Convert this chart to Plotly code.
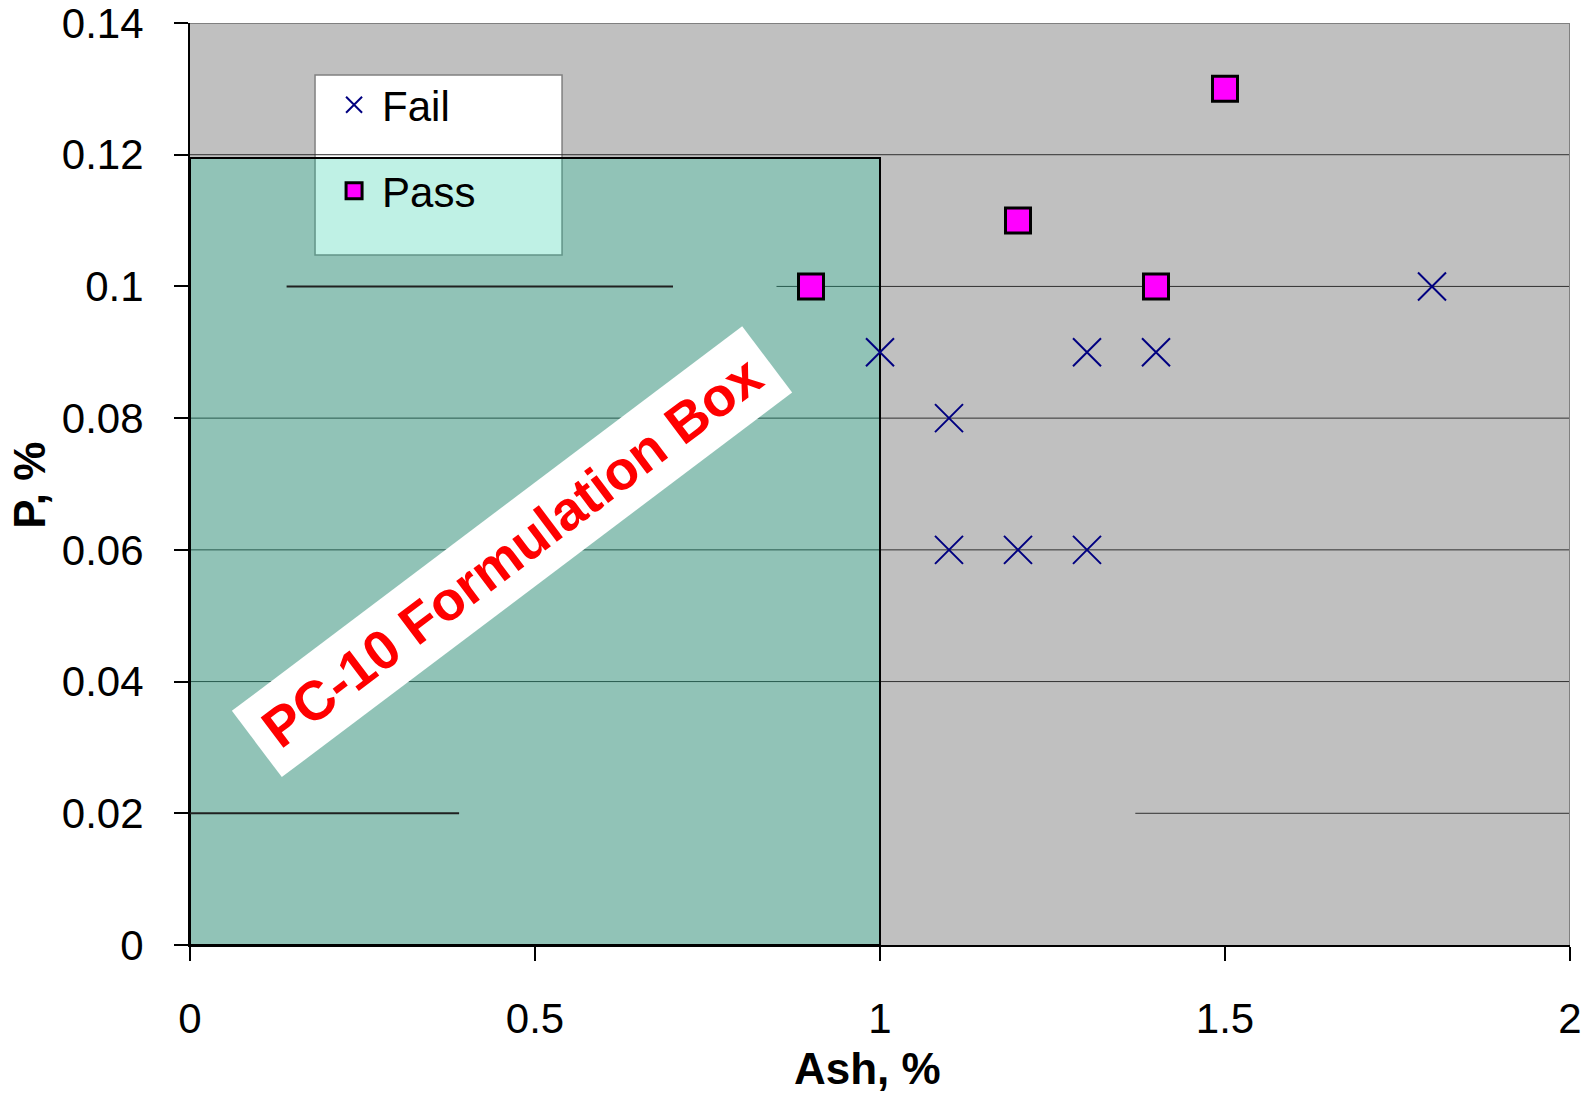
import plotly.graph_objects as go

# ---- data ----
fail_ash = [1.0, 1.1, 1.1, 1.2, 1.3, 1.3, 1.4, 1.8]
fail_p = [0.09, 0.08, 0.06, 0.06, 0.06, 0.09, 0.09, 0.10]
pass_ash = [0.9, 1.2, 1.4, 1.5]
pass_p = [0.10, 0.11, 0.10, 0.13]

x_ticks = [0, 0.5, 1, 1.5, 2]
x_tick_text = ["0", "0.5", "1", "1.5", "2"]
y_ticks = [0, 0.02, 0.04, 0.06, 0.08, 0.10, 0.12, 0.14]
y_tick_text = ["0", "0.02", "0.04", "0.06", "0.08", "0.1", "0.12", "0.14"]

box_ash_max = 1.0
box_p_max = 0.1195
box_label = "PC-10 Formulation Box"

# gridline segments (y value, x start, x end)
grid_segments = [
    (0.12, 0, 2), (0.10, 0.85, 2), (0.08, 0, 2), (0.06, 0, 2),
    (0.04, 0, 2), (0.02, 1.37, 2),
]
dark_segments = [(0.10, 0.14, 0.70), (0.02, 0.0, 0.39)]

FONT = "Liberation Sans, Arial, sans-serif"

fig = go.Figure()
fig.add_trace(go.Scatter(
    x=fail_ash, y=fail_p, mode="markers", name="Fail", legend="legend", showlegend=True,
    marker=dict(symbol="x-thin", size=28, color="#000080",
                line=dict(width=2, color="#000080")),
))
fig.add_trace(go.Scatter(
    x=pass_ash, y=pass_p, mode="markers", name="Pass", legend="legend2", showlegend=True,
    marker=dict(symbol="square", size=25, color="#FF00FF",
                line=dict(width=3, color="black")),
))

shapes = []
for yv, xa, xb in grid_segments:
    shapes.append(dict(type="line", xref="x", yref="y", x0=xa, x1=xb, y0=yv, y1=yv,
                       line=dict(color="#303030", width=1), layer="between"))
# legend background
shapes.append(dict(type="rect", xref="paper", yref="paper",
                   x0=0.0906, x1=0.2696, y0=0.7484, y1=0.9436,
                   fillcolor="white", line=dict(color="#808080", width=1.5), layer="between"))
# formulation box
shapes.append(dict(type="rect", xref="x", yref="y", x0=0, x1=box_ash_max, y0=0, y1=box_p_max,
                   fillcolor="rgba(20,204,160,0.27)", line=dict(color="black", width=2),
                   layer="between"))
for yv, xa, xb in dark_segments:
    shapes.append(dict(type="line", xref="x", yref="y", x0=xa, x1=xb, y0=yv, y1=yv,
                       line=dict(color="#202020", width=2), layer="between"))
# top / right border
shapes.append(dict(type="line", xref="x", yref="y", x0=0, x1=2, y0=0.14, y1=0.14,
                   line=dict(color="#808080", width=2), layer="between"))
shapes.append(dict(type="line", xref="x", yref="y", x0=2, x1=2, y0=0, y1=0.14,
                   line=dict(color="#808080", width=2), layer="between"))

annotations = [
    dict(text="<b>" + box_label + "</b>", xref="x", yref="y", x=0.466, y=0.0597,
         showarrow=False, textangle=-37, bgcolor="white", borderpad=4,
         width=630, height=74, align="center",
         font=dict(family=FONT, size=55, color="#FF0000")),
    dict(text="<b>Ash, %</b>", xref="paper", yref="paper", x=0.491, y=-0.134,
         xanchor="center", yanchor="middle", showarrow=False,
         font=dict(family=FONT, size=44, color="black")),
    dict(text="<b>P, %</b>", xref="paper", yref="paper", x=-0.116, y=0.499,
         xanchor="center", yanchor="middle", showarrow=False, textangle=-90,
         font=dict(family=FONT, size=44, color="black")),
]

legend_common = dict(bgcolor="rgba(0,0,0,0)", borderwidth=0, xanchor="left", yanchor="middle",
                     font=dict(family=FONT, size=42, color="black"), itemwidth=46,
                     visible=True)

fig.update_layout(
    width=1595, height=1102,
    margin=dict(l=190, r=25, t=23, b=157),
    paper_bgcolor="white", plot_bgcolor="#C0C0C0",
    font=dict(family=FONT, size=40, color="black"),
    showlegend=True,
    shapes=shapes, annotations=annotations,
    legend=dict(x=0.0986, y=0.9111, **legend_common),
    legend2=dict(x=0.0986, y=0.8178, **legend_common),
    xaxis=dict(range=[0, 2], tickvals=x_ticks, ticktext=x_tick_text, showgrid=False,
               zeroline=False, showline=True, linecolor="black", linewidth=2,
               ticks="outside", ticklen=14, tickwidth=1.5, tickcolor="black",
               automargin=False, ticklabeloverflow="allow",
               ticklabelstandoff=22, tickfont=dict(family=FONT, size=42, color="black")),
    yaxis=dict(range=[0, 0.14], tickvals=y_ticks, ticktext=y_tick_text, showgrid=False,
               zeroline=False, showline=True, linecolor="black", linewidth=2,
               ticks="outside", ticklen=14, tickwidth=1.5, tickcolor="black",
               automargin=False, ticklabeloverflow="allow",
               ticklabelstandoff=22, tickfont=dict(family=FONT, size=42, color="black")),
)

fig.write_html("out.html")
